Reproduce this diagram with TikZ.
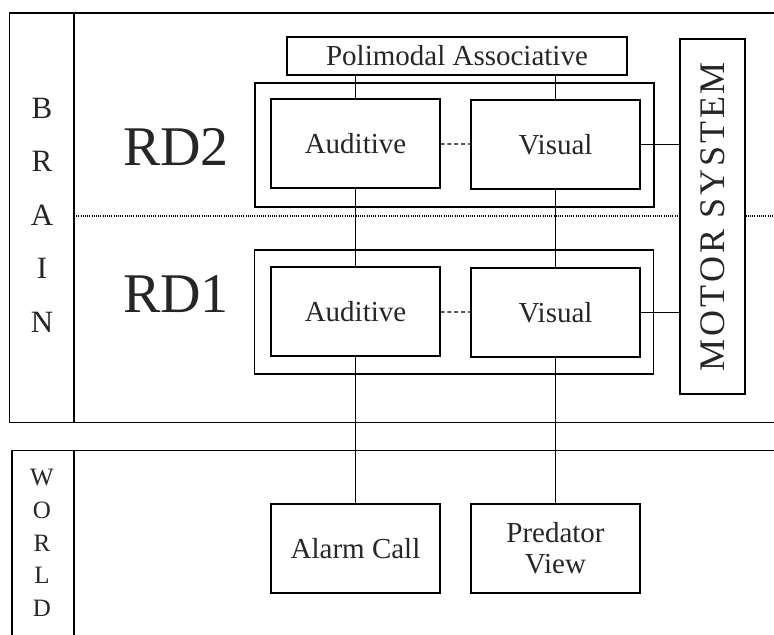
\documentclass[tikz,border=0pt]{standalone}
\usepackage{fontspec}
\setmainfont{Liberation Serif}
\usepackage{xcolor}
\usepackage{tikz}
\newcommand{\lsp}{\kern1.4pt}

\begin{document}
\begin{tikzpicture}[x=0.5pt, y=-0.5pt, line width=0.6pt,
  every node/.style={inner sep=0pt, text=black!85},
  unit/.style={draw, minimum width=84.5pt, minimum height=44.5pt, font=\fontsize{14.5}{15.5}\selectfont, align=center},
  frame/.style={draw, minimum width=199.5pt, minimum height=62pt},
  side/.style={font=\fontsize{15.5}{18}\selectfont},
  sidew/.style={font=\fontsize{12.5}{14}\selectfont},
  rd/.style={font=\fontsize{28}{30}\selectfont}]
\useasboundingbox (0,0) rectangle (774,635);
% brain and world frames
\draw (774,13) -- (9.5,13) -- (9.5,422.7) -- (774,422.7);
\draw (74,13) -- (74,422.7);
\draw (774,450.7) -- (12,450.7) -- (12,635);
\draw (74,450.7) -- (74,635);
\foreach \c [count=\i from 0] in {B,R,A,I,N}
  \node[side] at (42,108+53.5*\i) {\c};
\foreach \c [count=\i from 0] in {W,O,R,L,D}
  \node[sidew] at (42,478+32.5*\i) {\c};
% levels
\node[frame] (F2) at (454.5,145) {};
\node[frame] (F1) at (454,312) {};
\node[rd] (RD2) at (176,147) {RD2};
\node[rd] (RD1) at (176,294) {RD1};
\node[unit, minimum width=170pt, minimum height=19pt] (PA) at (457,56) {Polimodal Associative};
\node[unit] (A2) at (355.5,143.5) {Auditive};
\node[unit] (V2) at (555.5,144.5) {Visual};
\node[unit] (A1) at (355.5,311.5) {Auditive};
\node[unit] (V1) at (555.5,312.5) {Visual};
\node[unit] (AC) at (355.5,548.5) {Alarm Call};
\node[unit] (PV) at (555.5,548.5) {Predator\\View};
\node[draw, minimum width=32.5pt, minimum height=177.5pt] (MS) at (712.5,216.5) {};
\node[rotate=90, font=\fontsize{18}{20}\selectfont] at (MS.center)
  {M\lsp O\lsp T\lsp O\lsp R\lsp\ S\lsp Y\lsp S\lsp T\lsp E\lsp M};
% dotted border between levels
\draw[dash pattern=on 0.5pt off 0.6pt] (74,216) -- (MS.west |- 0,216);
\draw[dash pattern=on 0.5pt off 0.6pt] (MS.east |- 0,216) -- (774,216);
% connections
\draw (A2.north |- PA.south) -- (A2.north);
\draw (V2.north |- PA.south) -- (V2.north);
\draw (A2) -- (A1);
\draw (V2) -- (V1);
\draw (A1) -- (AC);
\draw (V1) -- (PV);
\draw[dash pattern=on 2pt off 1.4pt] (A2) -- (V2);
\draw[dash pattern=on 2pt off 1.4pt] (A1) -- (V1);
\draw (V2.east) -- (V2.east -| MS.west);
\draw (V1.east) -- (V1.east -| MS.west);
\end{tikzpicture}
\end{document}
